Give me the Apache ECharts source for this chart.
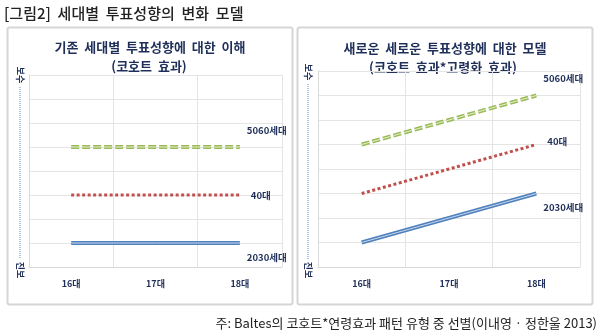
<!DOCTYPE html>
<html><head><meta charset="utf-8">
<script src="https://cdn.jsdelivr.net/npm/echarts@6/dist/echarts.min.js"></script>
<style>html,body{margin:0;padding:0;background:#fff}#c{width:600px;height:336px}</style>
</head><body><div id="c"></div>
<script>
const categories = ['16대', '17대', '18대'];
const seriesNames = ['5060세대', '40대', '2030세대'];
// left panel: cohort effect only
const left5060 = [5, 5, 5];
const left40 = [3, 3, 3];
const left2030 = [1, 1, 1];
// right panel: cohort * aging effect
const right5060 = [5, 6, 7];
const right40 = [3, 4, 5];
const right2030 = [1, 2, 3];
const yMin = 0, yMax = 8, yStep = 1;

const FONT = '"Noto Sans CJK KR", sans-serif';
const NAVY = '#1f2f5a';
const GREEN = '#9bbb59', RED = '#c0504d', BLUE = '#4f81bd';

const chart = echarts.init(document.getElementById('c'), null, {renderer: 'canvas'});

function xAx(gi) {
  return {
    type: 'category', gridIndex: gi, data: categories, boundaryGap: true,
    axisLine: {show: true, lineStyle: {color: '#d9d9d9', width: 1}},
    axisTick: {show: false},
    splitLine: {show: true, lineStyle: {color: '#e4e4e4', width: 1}},
    axisLabel: {margin: 12, fontSize: 9, fontWeight: 'bold', color: NAVY, fontFamily: FONT}
  };
}
function yAx(gi) {
  return {
    type: 'value', gridIndex: gi, min: yMin, max: yMax, interval: yStep,
    axisLine: {show: true, lineStyle: {color: '#d9d9d9', width: 1}},
    axisTick: {show: false}, axisLabel: {show: false},
    splitLine: {show: true, lineStyle: {color: '#e4e4e4', width: 1}}
  };
}
function labelCfg(off) {
  return {show: true, formatter: '{a}', offset: off, fontSize: 9.5, fontWeight: 'bold',
          color: NAVY, fontFamily: FONT, distance: 0, align: 'left'};
}
function doubleLine(gi, name, data, color, inner, dash, off) {
  return [
    {type: 'line', name: name, xAxisIndex: gi, yAxisIndex: gi, data: data, showSymbol: false,
     symbol: 'none', lineStyle: {color: color, width: 4, type: dash}, endLabel: labelCfg(off), z: 3},
    {type: 'line', name: name + '_in', xAxisIndex: gi, yAxisIndex: gi, data: data, showSymbol: false,
     symbol: 'none', silent: true, lineStyle: {color: inner, width: 1, type: dash}, z: 4}
  ];
}
function dotted(gi, name, data, off) {
  return [{type: 'line', name: name, xAxisIndex: gi, yAxisIndex: gi, data: data, showSymbol: false,
    symbol: 'none', lineStyle: {color: RED, width: 3, type: [3, 2.5]}, endLabel: labelCfg(off), z: 3}];
}

function vText(x, y, txt) {
  return {type: 'text', x: x, y: y, rotation: -Math.PI / 2,
    style: {text: txt, fill: NAVY, font: 'bold 9px ' + FONT, align: 'center', verticalAlign: 'middle'}};
}

const option = {
  animation: false,
  backgroundColor: '#fff',
  grid: [
    {left: 29, right: 318, top: 75, bottom: 69},
    {left: 318, right: 20, top: 71, bottom: 69}
  ],
  xAxis: [xAx(0), xAx(1)],
  yAxis: [yAx(0), yAx(1)],
  series: [].concat(
    doubleLine(0, seriesNames[0], left5060, GREEN, '#e4efcf', [8, 3], [7, -17]),
    dotted(0, seriesNames[1], left40, [11, 0]),
    doubleLine(0, seriesNames[2], left2030, BLUE, '#c9d8ee', 'solid', [7, 14]),
    doubleLine(1, seriesNames[0], right5060, GREEN, '#e4efcf', [8, 3], [7, -17]),
    dotted(1, seriesNames[1], right40, [11, -3]),
    doubleLine(1, seriesNames[2], right2030, BLUE, '#c9d8ee', 'solid', [7, 14])
  ),
  graphic: [
    {type: 'rect', shape: {x: 7.5, y: 27.5, width: 285, height: 277, r: 2},
     style: {fill: 'none', stroke: '#d6d6d6', lineWidth: 2}, z: -10},
    {type: 'rect', shape: {x: 297.5, y: 27.5, width: 295, height: 277, r: 2},
     style: {fill: 'none', stroke: '#d6d6d6', lineWidth: 2}, z: -10},
    {type: 'text', x: 4, y: 13,
     style: {text: '[그림2]  세대별  투표성향의  변화  모델', fill: '#222', font: '500 15px ' + FONT, align: 'left', verticalAlign: 'middle'}},
    {type: 'text', x: 150, y: 47,
     style: {text: '기존  세대별  투표성향에  대한  이해', fill: NAVY, font: 'bold 13px ' + FONT, align: 'center', verticalAlign: 'middle'}},
    {type: 'text', x: 149, y: 66,
     style: {text: '(코호트  효과)', fill: NAVY, font: 'bold 13px ' + FONT, align: 'center', verticalAlign: 'middle'}},
    {type: 'text', x: 445, y: 48,
     style: {text: '새로운  세로운  투표성향에  대한  모델', fill: NAVY, font: 'bold 13px ' + FONT, align: 'center', verticalAlign: 'middle'}},
    {type: 'text', x: 443, y: 67,
     style: {text: '(코호트  효과*고령화  효과)', fill: NAVY, font: 'bold 13px ' + FONT, align: 'center', verticalAlign: 'middle'}},
    {type: 'text', x: 597, y: 323,
     style: {text: '주: Baltes의 코호트*연령효과 패턴 유형 중 선별(이내영 · 정한울 2013)', fill: '#222', font: '13px ' + FONT, align: 'right', verticalAlign: 'middle'}},
    vText(20, 75, '보수'), vText(20, 270, '진보'),
    {type: 'line', shape: {x1: 20, y1: 87, x2: 20, y2: 259}, style: {stroke: '#5b8fd0', lineWidth: 1, lineDash: [1, 1]}},
    vText(308, 72, '보수'), vText(308, 270, '진보'),
    {type: 'line', shape: {x1: 308, y1: 84, x2: 308, y2: 259}, style: {stroke: '#5b8fd0', lineWidth: 1, lineDash: [1, 1]}}
  ]
};
chart.setOption(option);
</script></body></html>
